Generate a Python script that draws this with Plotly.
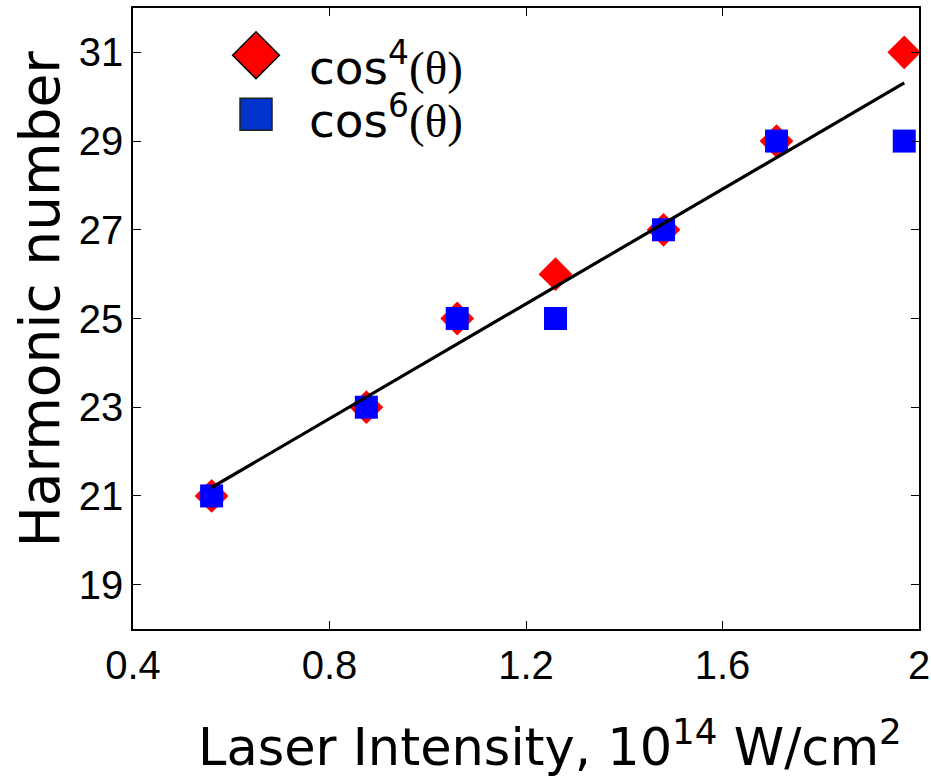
import plotly.graph_objects as go

# Laser intensity (10^14 W/cm^2) and cutoff harmonic number
intensity = [0.56, 0.875, 1.06, 1.26, 1.48, 1.71, 1.97]
harm_cos4 = [21, 23, 25, 26, 27, 29, 31]
harm_cos6 = [21, 23, 25, 25, 27, 29, 29]

# Linear fit drawn across the measured range
fit_x = [0.56, 1.97]
fit_y = [21.19, 30.31]

x_ticks = [0.4, 0.8, 1.2, 1.6, 2.0]
x_tick_text = ["0.4", "0.8", "1.2", "1.6", "2"]
y_ticks = [19, 21, 23, 25, 27, 29, 31]

HAND = "Comic Sans MS, DejaVu Sans, sans-serif"
TICKF = "Liberation Sans, Arial, sans-serif"
SERIF = "Liberation Serif, Times New Roman, serif"

fig = go.Figure()

fig.add_trace(go.Scatter(
    x=intensity, y=harm_cos4, mode="markers", showlegend=False,
    marker=dict(symbol="diamond", size=26, color="#ff0000", line=dict(width=0)),
))
fig.add_trace(go.Scatter(
    x=intensity, y=harm_cos6, mode="markers", showlegend=False,
    marker=dict(symbol="square", size=23, color="#0000ff", line=dict(width=0)),
))
fig.add_trace(go.Scatter(
    x=fit_x, y=fit_y, mode="lines", showlegend=False,
    line=dict(color="black", width=3.2),
))

# Key symbols, placed on a hidden overlay axis in plot-fraction units
fig.add_trace(go.Scatter(
    x=[0.1565], y=[0.924], xaxis="x2", yaxis="y2", mode="markers", showlegend=False,
    marker=dict(symbol="diamond", size=36, color="#ff0000", line=dict(color="black", width=1.5)),
))
fig.add_trace(go.Scatter(
    x=[0.1565], y=[0.829], xaxis="x2", yaxis="y2", mode="markers", showlegend=False,
    marker=dict(symbol="square", size=32, color="#0033cc", line=dict(color="#222222", width=1.5)),
))

key_labels = [
    (f"cos<sup>4</sup><span style='font-family:{SERIF}'>(θ)</span>", 0.91),
    (f"cos<sup>6</sup><span style='font-family:{SERIF}'>(θ)</span>", 0.825),
]
annotations = []
for txt, yy in key_labels:
    annotations.append(dict(
        text=txt, xref="paper", yref="paper", x=0.221, y=yy,
        xanchor="left", yanchor="middle", showarrow=False,
        font=dict(family=HAND, size=47, color="black"),
    ))

annotations.append(dict(
    text="Laser Intensity, 10<sup>14</sup> W/cm<sup>2</sup>",
    xref="paper", yref="paper", x=0.53, y=-0.185, xanchor="center", yanchor="middle",
    showarrow=False, font=dict(family=HAND, size=51, color="black"),
))
annotations.append(dict(
    text="Harmonic number", textangle=-90,
    xref="paper", yref="paper", x=-0.118, y=0.531, xanchor="center", yanchor="middle",
    showarrow=False, font=dict(family=HAND, size=55, color="black"),
))

axis_common = dict(
    showline=True, linecolor="black", linewidth=1.5, mirror="ticks",
    ticks="inside", ticklen=8, tickwidth=1, tickcolor="black",
    showgrid=False, zeroline=False, automargin=False,
    tickfont=dict(family=TICKF, size=40, color="black"),
)

fig.update_layout(
    width=931, height=777,
    margin=dict(l=133, r=12, t=8, b=148, autoexpand=False),
    paper_bgcolor="white", plot_bgcolor="white",
    xaxis=dict(range=[0.4, 2.0], tickvals=x_ticks, ticktext=x_tick_text, **axis_common),
    yaxis=dict(range=[18, 32], tickvals=y_ticks, **axis_common),
    xaxis2=dict(overlaying="x", range=[0, 1], visible=False),
    yaxis2=dict(overlaying="y", range=[0, 1], visible=False),
    annotations=annotations,
)

fig.write_html("out.html")
